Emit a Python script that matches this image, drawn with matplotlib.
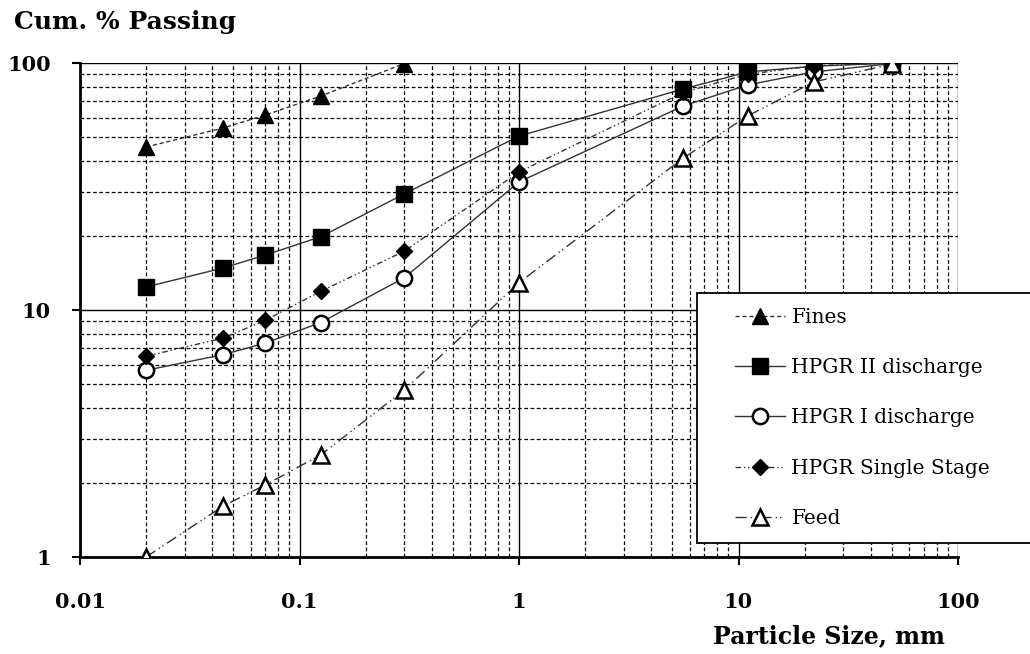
import matplotlib.pyplot as plt
from matplotlib.patches import Rectangle
from matplotlib.ticker import LogLocator, FixedLocator, NullFormatter

plt.rcParams['font.family'] = ['DejaVu Serif']

# particle sizes (mm)
sizes = [0.02, 0.045, 0.07, 0.125, 0.3, 1.0, 5.6, 11, 22, 50]
fines_sizes = [0.02, 0.045, 0.07, 0.125, 0.3]

# cumulative % passing
fines = [45.7, 54.6, 61.6, 73.5, 99.5]
hpgr2 = [12.4, 14.8, 16.7, 19.8, 29.5, 50.6, 78.5, 92, 97, 100]
hpgr1 = [5.7, 6.6, 7.35, 8.9, 13.5, 33, 67, 81.5, 92, 99.5]
single = [6.5, 7.7, 9.1, 11.9, 17.3, 36.2, 76, 90, 97.5, 100]
feed = [1.0, 1.61, 1.96, 2.59, 4.74, 12.9, 41.2, 61, 83.8, 99]

x_ticks = [0.01, 0.1, 1, 10, 100]
y_ticks = [1, 10, 100]

W, H = 1030, 654
fig = plt.figure(figsize=(W / 100, H / 100), dpi=100)
ax = fig.add_axes([80/W, 1-557/H, 878/W, 494/H])

lc = '#333333'
ax.plot(fines_sizes, fines, ls=(0, (3, 2)), color=lc, lw=1.0, marker='^', ms=11,
        mfc='black', mec='black', label='Fines', zorder=5)
ax.plot(sizes, hpgr2, ls='-', color=lc, lw=1.0, marker='s', ms=11,
        mfc='black', mec='black', label='HPGR II discharge', zorder=5)
ax.plot(sizes, hpgr1, ls='-', color=lc, lw=1.0, marker='o', ms=11,
        mfc='white', mec='black', mew=1.8, label='HPGR I discharge', zorder=5)
ax.plot(sizes, single, ls=(0, (4, 2, 1, 2, 1, 2)), color=lc, lw=1.0, marker='D', ms=8,
        mfc='black', mec='black', label='HPGR Single Stage', zorder=5)
ax.plot(sizes, feed, ls=(0, (8, 3, 1, 2, 1, 3)), color=lc, lw=1.0, marker='^', ms=12,
        mfc='white', mec='black', mew=1.8, label='Feed', zorder=5)

ax.set_xscale('log')
ax.set_yscale('log')
ax.set_xlim(0.01, 100)
ax.set_ylim(1, 100)

ax.xaxis.set_major_locator(FixedLocator(x_ticks))
ax.set_xticks(x_ticks, ['0.01', '0.1', '1', '10', '100'])
ax.yaxis.set_major_locator(FixedLocator(y_ticks))
ax.set_yticks(y_ticks, ['1', '10', '100'])
ax.xaxis.set_minor_locator(LogLocator(base=10, subs=range(2, 10)))
ax.yaxis.set_minor_locator(LogLocator(base=10, subs=range(2, 10)))
ax.xaxis.set_minor_formatter(NullFormatter())
ax.yaxis.set_minor_formatter(NullFormatter())

ax.grid(which='major', color='black', lw=1.0, ls='-')
ax.grid(which='minor', color='black', lw=0.9, ls=(0, (3, 2)))
ax.set_axisbelow(True)

for s in ['top', 'right']:
    ax.spines[s].set_visible(False)
for s in ['left', 'bottom']:
    ax.spines[s].set_linewidth(2.0)
ax.tick_params(which='major', direction='out', length=6, width=1.5, labelsize=15)
ax.tick_params(axis='x', pad=19)
ax.tick_params(axis='y', pad=15)
ax.tick_params(which='minor', length=0)
for lab in ax.get_xticklabels() + ax.get_yticklabels():
    lab.set_fontweight('bold')

fig.text(14/W, 1-22/H, 'Cum. % Passing', fontsize=18, fontweight='bold',
         va='center', ha='left')
fig.text(945/W, 1-636/H, 'Particle Size, mm', fontsize=17, fontweight='bold',
         va='center', ha='right')

# legend box drawn separately so the padding can match
box = Rectangle((697/W, 1-543/H), 335/W, 250/H, transform=fig.transFigure,
                facecolor='white', edgecolor='black', lw=1.3, zorder=9, clip_on=False)
ax.add_patch(box)
leg = ax.legend(loc='upper left', bbox_to_anchor=(735/W, 1-308/H),
                bbox_transform=fig.transFigure, fontsize=14.5, frameon=False,
                handlelength=2.5, labelspacing=1.55, borderpad=0,
                handletextpad=0.3, borderaxespad=0, markerscale=1.0)
leg.set_zorder(10)

fig.savefig('out.png', dpi=100)
